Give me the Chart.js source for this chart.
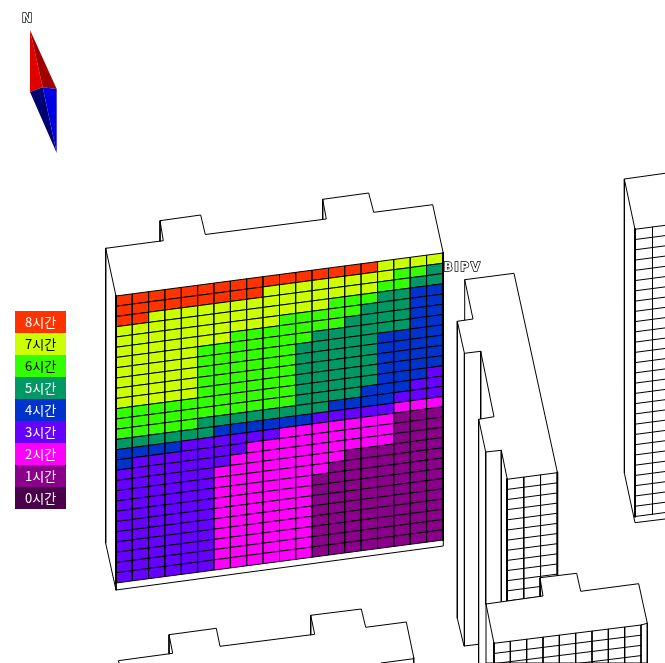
<!DOCTYPE html>
<html><head><meta charset="utf-8">
<style>html,body{margin:0;padding:0;background:#fff;overflow:hidden}canvas{display:block}</style>
<script src="https://cdn.jsdelivr.net/npm/chart.js@4"></script>
</head><body><canvas id="c" width="665" height="663" style="width:665px;height:663px"></canvas>
<script>
// legend
const hourValues = [8,7,6,5,4,3,2,1,0];
const hourLabels = ['8시간','7시간','6시간','5시간','4시간','3시간','2시간','1시간','0시간'];
const hourColors = ['#ff3300','#ccff00','#33ff00','#009966','#0033cc','#6600ff','#ff00ff','#8b008b','#4b004b'];
const labelColors = ['#fff','#000','#000','#fff','#fff','#fff','#fff','#fff','#fff'];
// hours of sunlight on the BIPV facade: one string per column, top row first
const hoursByColumn = [
 '8887777777766654433333333333','8887777777766654333333333333',
 '8877777777766654333333333333','8877777777766654333333333333',
 '8877777777766653333333333333','8877776666666553333333333333',
 '8877776666666543332222222222','8877766666666543322222222222',
 '8877766666666543222222222222','8777766666666543222222222222',
 '8777666666666542222222222222','8777666555555542222222222222',
 '8777665555555532222211111111','8776665555555432222111111111',
 '8776655555555432221111111111','8776555555554432221111111111',
 '7765555444444432221111111111','7665555444444321111111111111',
 '7654444444443321111111111111','7554444444433321111111111111'
];
// facade corners [x,y]
const mainFacade = {tl:[116,296],tr:[443,253],bl:[116,583],br:[443,540],cols:20,rows:28};
const sideFacade = {tl:[507,479.3],tr:[557.3,472.7],bl:[507,601],br:[557.3,594.4],cols:3,rows:12};
const rightFacade = {tl:[635,229.3],tr:[670,224.7],bl:[635,516.5],br:[670,511.9],cols:2,rows:28};
const frontFacade = {tl:[494,643.3],tr:[641,625],bl:[494,745],br:[641,727],cols:9,rows:10};
// building outlines
const mainRoof = [[105.7,248.3],[163.3,240.7],[160,220.7],[200.7,215],[205.3,234.5],[326.3,219],[322.7,199.3],[368.7,193],[373.7,212.3],[432.7,204.7],[443.3,253.3]];
const mainSides = [[[160,220.7],[160,241.2]],[[322.7,199.3],[322.7,219.4]],[[105.7,248.3],[116,296]],[[105.7,248.3],[105.7,543.3],[116,590],[443.3,546],[443.3,540]],[[116,583],[116,590]]];
const sideBuilding = [
 [[464.7,320],[464.7,279.7],[514,273.3],[557.3,472]],
 [[464.7,279.7],[473,319],[457.3,321.3],[464.4,353.3],[480.7,351.3],[494,416.7],[478.7,419.3],[485.7,452],[501.3,450.3],[507,478]],
 [[457.3,321.3],[457.3,618.3],[464,646],[478.5,644.3]],
 [[464.4,353.3],[464.4,646]],[[480.7,351.3],[480.7,418.5]],[[478.6,419.3],[478.6,663]],
 [[485.7,452],[485.7,604]],[[501.3,450.3],[501.3,602]]
];
const frontRoof = [[486,604],[543,596],[540,577.7],[576.7,573.3],[580.7,591.3],[638.7,583.7],[647.3,623.3],[647.3,663],[486,663],[486,604]];
const frontLines = [[[540,577.7],[540,596.4]],[[486,604],[494,643.3]],[[641,625],[647.3,623.3]]];
const rightBuilding = [[[665,173.3],[624.3,179],[635,229.3]],[[624.3,179],[624.4,473.3],[635,522.7],[665,519]]];
const bottomBuilding = [[[119,663],[118.3,660.7],[172.7,653.3],[169,634.7],[216.3,628.3],[220,646.3],[314.7,634.3],[310.7,615.3],[361.3,609],[365.7,627.3],[406.3,622],[413.7,657.3],[413.7,663]],
 [[169,634.7],[169,653.8]],[[310.7,615.3],[310.7,634.8]],[[381,663],[413.7,658.7]]];
// compass faces
const compassFaces = [
 {c:'#e00000',p:[[30,30],[30,92],[42.7,87.3]]},
 {c:'#a00000',p:[[30,30],[42.7,87.3],[56.7,89]]},
 {c:'#000070',p:[[30,92],[42.7,87.3],[56.7,153]]},
 {c:'#0000e0',p:[[42.7,87.3],[56.7,89],[56.7,153]]}
];
const legendBox = {x0:15,x1:66,y0:311,rowH:22};

const sets = [];
const pts = a => a.map(p => ({x:p[0],y:p[1]}));
function line(a,w){sets.push({data:pts(a),showLine:true,fill:false,borderColor:'#000',borderWidth:w||1,pointRadius:0,tension:0,borderJoinStyle:'miter',borderCapStyle:'square'});}
function poly(a,fill,border,w){const d=a.concat([a[0]]);sets.push({data:pts(d),showLine:true,fill:'shape',backgroundColor:fill,borderColor:border||fill,borderWidth:border?(w||1):0,pointRadius:0,tension:0,borderJoinStyle:'miter'});}
function at(f,i,j){const u=i/f.cols,v=j/f.rows;
 const tx=f.tl[0]+(f.tr[0]-f.tl[0])*u,ty=f.tl[1]+(f.tr[1]-f.tl[1])*u;
 const bx=f.bl[0]+(f.br[0]-f.bl[0])*u,by=f.bl[1]+(f.br[1]-f.bl[1])*u;
 return [tx+(bx-tx)*v,ty+(by-ty)*v];}
function grid(f){
 for(let j=0;j<=f.rows;j++)line([at(f,0,j),at(f,f.cols,j)]);
 for(let i=1;i<f.cols;i++)line([at(f,i,0),at(f,i,f.rows)]);
 line([at(f,0,0),at(f,0,f.rows)],2);
}
// neighbours first
rightBuilding.forEach(a=>line(a));
grid(rightFacade);
sideBuilding.forEach(a=>line(a));
grid(sideFacade);
line([sideFacade.tr,sideFacade.br],2);
poly(frontRoof.slice(0,-1),'#fff','#000');
frontLines.forEach(a=>line(a));
grid(frontFacade);
line([frontFacade.tr,frontFacade.br]);
bottomBuilding.forEach(a=>line(a));
// main building
line(mainRoof);mainSides.forEach(a=>line(a));
hoursByColumn.forEach((col,i)=>{[...col].forEach((h,j)=>{
 poly([at(mainFacade,i,j),at(mainFacade,i+1,j),at(mainFacade,i+1,j+1),at(mainFacade,i,j+1)],hourColors[hourValues.indexOf(+h)],'#000');
});});
line([mainFacade.tl,mainFacade.bl],2);line([mainFacade.tr,mainFacade.br],2);
// compass and legend
compassFaces.forEach(f=>poly(f.p,f.c));
hourValues.forEach((h,k)=>{const b=legendBox,y=b.y0+k*b.rowH;poly([[b.x0,y],[b.x1,y],[b.x1,y+b.rowH],[b.x0,y+b.rowH]],hourColors[k]);});

const textPlugin={id:'texts',afterDatasetsDraw(ch){
 const c=ch.ctx,X=ch.scales.x,Y=ch.scales.y;c.save();
 c.textBaseline='middle';c.textAlign='left';c.font='13px "Noto Sans CJK KR"';
 hourLabels.forEach((t,k)=>{c.fillStyle=labelColors[k];c.fillText(t,X.getPixelForValue(25),Y.getPixelForValue(legendBox.y0+k*legendBox.rowH+11));});
 c.font='bold 12px "DejaVu Sans"';c.lineWidth=1.4;c.strokeStyle='#000';c.fillStyle='#fff';c.textBaseline='alphabetic';c.lineJoin='miter';
 if('letterSpacing' in c)c.letterSpacing='1.6px';
 c.strokeText('BIPV',443.5,271);c.fillText('BIPV',443.5,271);
 c.strokeText('N',22,21.5);c.fillText('N',22,21.5);
 c.restore();
}};
new Chart(document.getElementById('c'),{type:'scatter',
 data:{datasets:sets.slice().reverse()},
 options:{responsive:false,animation:false,devicePixelRatio:1,layout:{padding:0},
  events:[],
  plugins:{legend:{display:false},tooltip:{enabled:false},title:{display:false}},
  scales:{x:{type:'linear',display:false,min:0,max:665},y:{type:'linear',display:false,min:0,max:663,reverse:true}}},
 plugins:[textPlugin]});
</script></body></html>
